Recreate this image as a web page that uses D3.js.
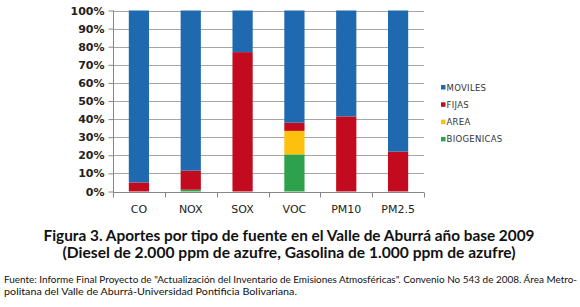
<!DOCTYPE html>
<html>
<head>
<meta charset="utf-8">
<script src="https://cdn.jsdelivr.net/npm/d3@7"></script>
<style>
  body { margin: 0; background: #fff; }
  svg { display: block; }
</style>
</head>
<body>
<div id="chart"></div>
<script>
var width = 580,
    height = 307;

// data (percent of each pollutant)
var categories = ['CO', 'NOX', 'SOX', 'VOC', 'PM10', 'PM2.5'];
var seriesNames = ['BIOGENICAS', 'AREA', 'FIJAS', 'MOVILES'];
var biogenicas = [0, 1, 0, 20.5, 0, 0];
var area = [0, 0, 0, 13, 0, 0];
var fijas = [5, 10.5, 77, 4.5, 41.5, 22];
var moviles = [95, 88.5, 23, 62, 58.5, 78];
var yTicks = [0, 10, 20, 30, 40, 50, 60, 70, 80, 90, 100];
var legendOrder = ['MOVILES', 'FIJAS', 'AREA', 'BIOGENICAS'];

var colors = {
    MOVILES: '#1f69b1',
    FIJAS: '#c20b1f',
    AREA: '#fdc00d',
    BIOGENICAS: '#2da14b'
};

var rows = categories.map(function (c, i) {
    return {
        cat: c,
        BIOGENICAS: biogenicas[i],
        AREA: area[i],
        FIJAS: fijas[i],
        MOVILES: moviles[i]
    };
});

var plot = { left: 113, right: 424, top: 10.5, bottom: 191.5 };

var svg = d3.select('#chart')
    .append('svg')
    .attr('width', width)
    .attr('height', height);

var x = d3.scaleBand()
    .domain(categories)
    .range([plot.left, plot.right])
    .paddingInner(0.61)
    .paddingOuter(0.305);

var y = d3.scaleLinear()
    .domain([0, 100])
    .range([plot.bottom, plot.top]);

// gridlines
svg.append('g')
    .selectAll('line')
    .data(yTicks.slice(1))
    .enter()
    .append('line')
    .attr('x1', plot.left)
    .attr('x2', plot.right)
    .attr('y1', function (d) { return Math.round(y(d)) + 0.5; })
    .attr('y2', function (d) { return Math.round(y(d)) + 0.5; })
    .attr('stroke', '#a6a6a6')
    .attr('stroke-width', 1);

// stacked bars
var stack = d3.stack().keys(seriesNames);
var layers = stack(rows);

svg.append('g')
    .selectAll('g')
    .data(layers)
    .enter()
    .append('g')
    .attr('fill', function (d) { return colors[d.key]; })
    .selectAll('rect')
    .data(function (d) { return d; })
    .enter()
    .append('rect')
    .attr('x', function (d) { return x(d.data.cat); })
    .attr('width', x.bandwidth())
    .attr('y', function (d) { return y(d[1]); })
    .attr('height', function (d) { return y(d[0]) - y(d[1]); });

// y axis
var yAxis = d3.axisLeft(y)
    .tickValues(yTicks)
    .tickFormat(function (d) { return d + '%'; })
    .tickSize(5)
    .tickPadding(4);

var gy = svg.append('g')
    .attr('transform', 'translate(' + (plot.left + 0.5) + ',0)')
    .call(yAxis);
gy.select('.domain').attr('stroke', '#868686').attr('d', 'M0,' + plot.top + 'V' + (plot.bottom + 0.5));
gy.selectAll('.tick line').attr('stroke', '#868686');
gy.selectAll('.tick text')
    .attr('fill', '#222')
    .style('font-family', 'Tahoma, "DejaVu Sans", sans-serif')
    .style('font-size', '11px')
    .style('font-weight', 'bold');

// x axis
var xAxis = d3.axisBottom(x).tickSize(0).tickPadding(13);
var gx = svg.append('g')
    .attr('transform', 'translate(0,' + (Math.round(plot.bottom) + 0.5) + ')')
    .call(xAxis);
gx.select('.domain').attr('stroke', '#868686').attr('d', 'M' + plot.left + ',0H' + plot.right);
gx.selectAll('.tick text')
    .attr('fill', '#222')
    .style('font-family', 'Tahoma, "DejaVu Sans", sans-serif')
    .style('font-size', '11px');

// category separator ticks
var step = x.step();
var seps = categories.map(function (c) { return x(c) - x.paddingInner() * step / 2; });
seps.push(plot.right);
gx.append('g')
    .selectAll('line')
    .data(seps)
    .enter()
    .append('line')
    .attr('x1', function (d) { return Math.round(d) + 0.5; })
    .attr('x2', function (d) { return Math.round(d) + 0.5; })
    .attr('y1', 0)
    .attr('y2', 5)
    .attr('stroke', '#868686');

// legend
var legend = svg.append('g')
    .selectAll('g')
    .data(legendOrder)
    .enter()
    .append('g')
    .attr('transform', function (d, i) { return 'translate(441,' + (85 + i * 17.3) + ')'; });

legend.append('rect')
    .attr('width', 4.5)
    .attr('height', 4.5)
    .attr('fill', function (d) { return colors[d]; });

legend.append('text')
    .attr('x', 5.5)
    .attr('y', 5.5)
    .text(function (d) { return d; })
    .attr('fill', '#333')
    .style('font-family', 'Tahoma, "DejaVu Sans", sans-serif')
    .style('font-size', '8.5px')
    .style('letter-spacing', '0.3px');

// caption
var titleLines = [
    'Figura 3. Aportes por tipo de fuente en el Valle de Aburrá año base 2009',
    '(Diesel de 2.000 ppm de azufre, Gasolina de 1.000 ppm de azufre)'
];
var titleWidths = [491, 453];
svg.append('g')
    .selectAll('text')
    .data(titleLines)
    .enter()
    .append('text')
    .attr('x', 289)
    .attr('y', function (d, i) { return 241 + i * 17; })
    .attr('text-anchor', 'middle')
    .style('font-family', 'Lato, sans-serif')
    .style('font-weight', 'bold')
    .style('font-size', '14.5px')
    .attr('fill', '#111')
    .attr('textLength', function (d, i) { return titleWidths[i]; })
    .attr('lengthAdjust', 'spacingAndGlyphs')
    .text(function (d) { return d; });

var sourceLines = [
    'Fuente: Informe Final Proyecto de "Actualización del Inventario de Emisiones Atmosféricas". Convenio No 543 de 2008. Área Metro-',
    'politana del Valle de Aburrá-Universidad Pontificia Bolivariana.'
];
var sourceWidths = [573, 293];
svg.append('g')
    .selectAll('text')
    .data(sourceLines)
    .enter()
    .append('text')
    .attr('x', 4)
    .attr('y', function (d, i) { return 283 + i * 11.5; })
    .style('font-family', 'Lato, sans-serif')
    .style('font-size', '9px')
    .attr('fill', '#111')
    .attr('textLength', function (d, i) { return sourceWidths[i]; })
    .attr('lengthAdjust', 'spacingAndGlyphs')
    .text(function (d) { return d; });
</script>
</body>
</html>
